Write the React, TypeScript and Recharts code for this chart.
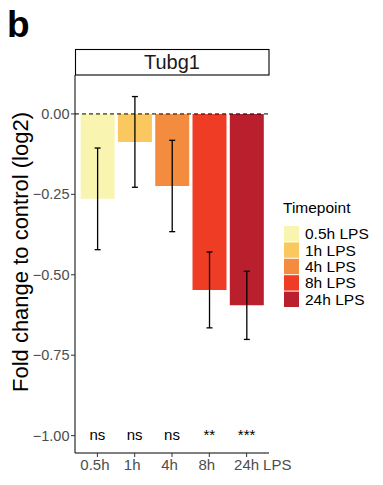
import React from "react";
import { ComposedChart, Bar, Cell, ErrorBar, XAxis, YAxis, ReferenceLine, Scatter } from "recharts";

const categories = ["0.5h", "1h", "4h", "8h", "24h"];
const means = [-0.264, -0.087, -0.224, -0.547, -0.595];
const errs = [0.158, 0.141, 0.142, 0.118, 0.106];
const sigLabels = ["ns", "ns", "ns", "**", "***"];
const legendLabels = ["0.5h LPS", "1h LPS", "4h LPS", "8h LPS", "24h LPS"];
const barColors = ["#F9F5B1", "#FBC85F", "#F48C3F", "#EE3C25", "#BA1F2E"];
const yTicks = [0, -0.25, -0.5, -0.75, -1];
const sigLevel = -1;
const xSuffix = "LPS";
const panelTitle = "Tubg1";
const yTitle = "Fold change to control (log2)";
const legendTitle = "Timepoint";
const panelTag = "b";

const data = categories.map((c, i) => ({
  cat: c,
  mean: means[i],
  err: errs[i],
  sig: sigLabels[i],
  sigY: sigLevel,
}));

const FONT = "'Liberation Sans', Arial, Helvetica, sans-serif";

const fmtY = (v: number) => (v === 0 ? "0.00" : "\u2212" + Math.abs(v).toFixed(2));

const XTick = (props: any) => {
  const { x, y, payload, index } = props;
  const last = index === categories.length - 1;
  return (
    <g>
      <text x={x - (last ? 0 : 2.5)} y={y} dy="0.71em" textAnchor="middle" fontSize={15} fill="#4D4D4D" fontFamily={FONT}>
        {payload.value}
      </text>
      {last ? (
        <text x={x + 16.5} y={y} dy="0.71em" textAnchor="start" fontSize={15} fill="#4D4D4D" fontFamily={FONT}>
          {xSuffix}
        </text>
      ) : null}
    </g>
  );
};

const SigShape = (props: any) => {
  const { cx, cy, payload } = props;
  return (
    <text x={cx} y={cy} dy={4} textAnchor="middle" fontSize={15} fill="#000" fontFamily={FONT}>
      {payload.sig}
    </text>
  );
};

export default function App() {
  return (
    <div style={{ position: "absolute", left: 0, top: 0, width: 383, height: 485, background: "#fff" }}>
      <ComposedChart
        width={383}
        height={485}
        data={data}
        margin={{ top: 75, right: 114, bottom: 0, left: 0 }}
        barCategoryGap="5%"
      >
        <XAxis
          dataKey="cat"
          height={32}
          padding={{ left: 3.75, right: 3.75 }}
          axisLine={{ stroke: "#000", strokeWidth: 1 }}
          tickLine={{ stroke: "#333" }}
          tickSize={4}
          tickMargin={2}
          tick={<XTick />}
          interval={0}
        />
        <YAxis
          width={75}
          type="number"
          domain={[-1.054, 0.121]}
          allowDataOverflow
          ticks={yTicks}
          tickFormatter={fmtY}
          axisLine={{ stroke: "#000", strokeWidth: 1 }}
          tickLine={{ stroke: "#333" }}
          tickSize={4}
          tickMargin={1.5}
          tick={{ fontSize: 14.5, fill: "#4D4D4D", fontFamily: FONT }}
        />
        <Bar dataKey="mean" isAnimationActive={false} legendType="none">
          {data.map((d, i) => (
            <Cell key={d.cat} fill={barColors[i]} />
          ))}
          <ErrorBar dataKey="err" width={3} strokeWidth={1.3} stroke="#000" direction="y" />
        </Bar>
        <ReferenceLine y={0} stroke="#000" strokeDasharray="4 3" strokeWidth={1} />
        <Scatter dataKey="sigY" isAnimationActive={false} shape={<SigShape />} legendType="none" />
      </ComposedChart>
      <svg
        width={383}
        height={485}
        style={{ position: "absolute", left: 0, top: 0, pointerEvents: "none" }}
        fontFamily={FONT}
      >
        <text x={7} y={37} fontSize={37} fontWeight="bold" fill="#000">
          {panelTag}
        </text>
        <rect x={75.5} y={49.5} width={193.5} height={25.5} fill="#fff" stroke="#000" strokeWidth={1.1} />
        <text x={172} y={69} textAnchor="middle" fontSize={20} fill="#1a1a1a">
          {panelTitle}
        </text>
        <text
          x={28}
          y={252}
          transform="rotate(-90 28 252)"
          textAnchor="middle"
          fontSize={22}
          fill="#000"
        >
          {yTitle}
        </text>
        <text x={283} y={213} fontSize={15.5} fill="#000">
          {legendTitle}
        </text>
        {legendLabels.map((l, i) => (
          <g key={l}>
            <rect x={284} y={226 + i * 16.4} width={15} height={15.4} fill={barColors[i]} />
            <text x={305} y={226 + i * 16.4 + 7.7} dy="0.36em" fontSize={15.5} fill="#000">
              {l}
            </text>
          </g>
        ))}
      </svg>
    </div>
  );
}
